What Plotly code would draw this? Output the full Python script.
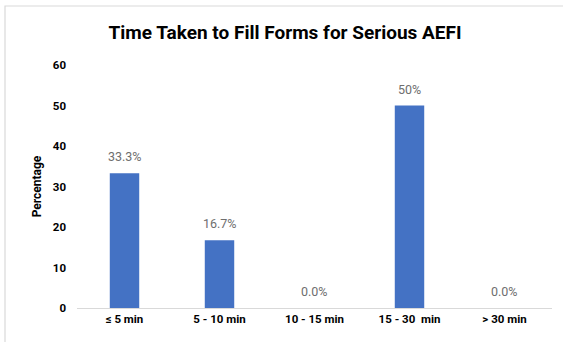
import plotly.graph_objects as go

categories = ["≤ 5 min", "5 - 10 min", "10 - 15 min", "15 - 30  min", "> 30 min"]
percentages = [33.3, 16.7, 0.0, 50.0, 0.0]
value_labels = ["33.3%", "16.7%", "0.0%", "50%", "0.0%"]
y_ticks = [0, 10, 20, 30, 40, 50, 60]

W, H = 563, 342
ML, MR, MT, MB = 77, 11, 65, 34
plot_w = W - ML - MR
plot_h = H - MT - MB

fig = go.Figure(
    go.Bar(
        x=categories,
        y=percentages,
        width=0.31,
        marker=dict(color="#4472C4", line=dict(width=0)),
        hoverinfo="x+y",
    )
)

# value labels sitting a little above each bar
for cat, val, lab in zip(categories, percentages, value_labels):
    fig.add_annotation(
        x=cat, y=val, text=lab, showarrow=False,
        xanchor="center", yanchor="bottom", yshift=7,
        font=dict(family="Roboto", size=12.5, color="#6E6E6E"),
    )

# light frame around the whole chart
fig.add_shape(
    type="rect", xref="paper", yref="paper",
    x0=(5 - ML) / plot_w, x1=(W + 20 - ML) / plot_w,
    y0=-(H + 20 - (H - MB)) / plot_h, y1=((H - MB) - 6) / plot_h,
    line=dict(color="#D9D9D9", width=1.2), fillcolor="rgba(0,0,0,0)",
    layer="below",
)

fig.update_layout(
    width=W, height=H,
    margin=dict(l=ML, r=MR, t=MT, b=MB),
    paper_bgcolor="white", plot_bgcolor="white",
    showlegend=False,
    title=dict(
        text="<b>Time Taken to Fill Forms for Serious AEFI</b>",
        x=285 / W, xref="container", xanchor="center",
        y=1 - 32 / H, yanchor="middle",
        font=dict(family="Roboto", size=19, color="#000000"),
    ),
    bargap=0.69,
)

fig.update_xaxes(
    showline=True, linecolor="#D9D9D9", linewidth=1,
    ticks="", showgrid=False,
    tickfont=dict(family="Roboto", size=11.5, color="#000000", weight="bold"),
)

fig.update_yaxes(
    range=[0, 60], tickvals=y_ticks,
    showgrid=False, zeroline=False, showline=False, ticks="",
    tickfont=dict(family="Roboto", size=11.5, color="#000000", weight="bold"),
    ticklabelstandoff=10,
    title=dict(text="<b>Percentage</b>", standoff=8,
               font=dict(family="Roboto", size=12, color="#000000")),
)

fig.write_html("out.html")
